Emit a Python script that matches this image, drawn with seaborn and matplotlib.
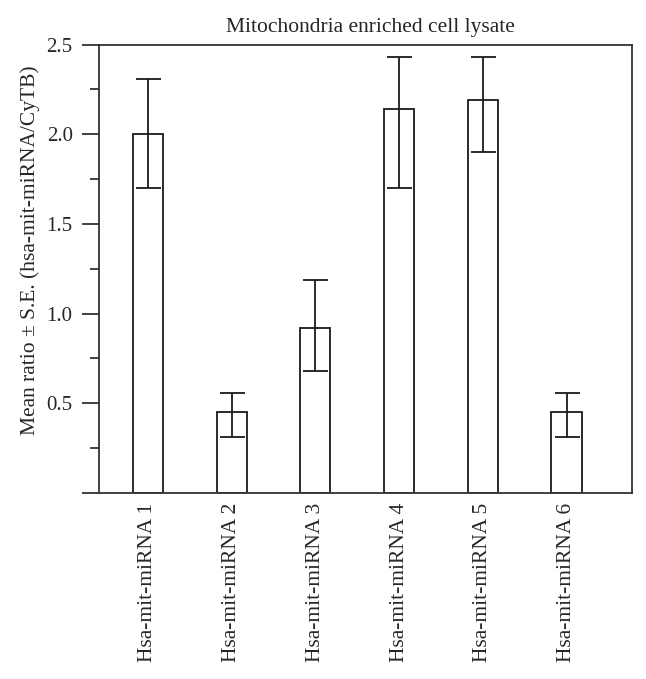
import numpy as np
import pandas as pd
import matplotlib.pyplot as plt
import seaborn as sns
from matplotlib.ticker import MultipleLocator, FixedLocator

# values
mirnas = ["Hsa-mit-miRNA 1", "Hsa-mit-miRNA 2", "Hsa-mit-miRNA 3",
          "Hsa-mit-miRNA 4", "Hsa-mit-miRNA 5", "Hsa-mit-miRNA 6"]
mean_ratio = [2.00, 0.45, 0.92, 2.14, 2.19, 0.45]
err_low = [1.70, 0.31, 0.68, 1.70, 1.90, 0.31]
err_high = [2.31, 0.56, 1.19, 2.43, 2.43, 0.56]

df = pd.DataFrame({"mirna": mirnas, "ratio": mean_ratio})

sns.set_style("ticks")
plt.rcParams["font.family"] = ["Liberation Serif", "DejaVu Serif"]
plt.rcParams["font.size"] = 15.5

fig = plt.figure(figsize=(6.46, 6.79), dpi=100)
ax = fig.add_axes([0.1533, 0.274, 0.8247, 0.6603])

sns.barplot(data=df, x="mirna", y="ratio", color="white", edgecolor="#1a1a1a",
            linewidth=1.3, width=0.36, errorbar=None, ax=ax)

#asymmetric S.E. bars
pos = np.arange(len(mirnas))
lower = np.array(mean_ratio) - np.array(err_low)
upper = np.array(err_high) - np.array(mean_ratio)
ax.errorbar(pos, mean_ratio, yerr=[lower, upper], fmt="none", ecolor="#1a1a1a",
            elinewidth=1.3, capsize=9, capthick=1.3)

ax.set_xlim(-0.585, 5.78)
ax.set_ylim(0, 2.5)
ax.yaxis.set_major_locator(FixedLocator([0, 0.5, 1.0, 1.5, 2.0, 2.5]))
ax.set_yticklabels(["", "0.5", "1.0", "1.5", "2.0", "2.5"])
ax.yaxis.set_minor_locator(MultipleLocator(0.25))
ax.tick_params(axis="y", which="major", length=12, width=1.3, color="#333333",
               labelsize=15, pad=7)
ax.tick_params(axis="y", which="minor", length=6.5, width=1.3, color="#333333")
ax.tick_params(axis="x", length=0, labelsize=15.5, pad=7)
plt.setp(ax.get_xticklabels(), rotation=90)

for s in ax.spines.values():
    s.set_linewidth(1.3)
    s.set_color("#333333")

ax.set_xlabel("")
ax.set_ylabel("Mean ratio ± S.E. (hsa-mit-miRNA/CyTB)", fontsize=15.5)
ax.yaxis.set_label_coords(-0.110, 0.542)
ax.set_title("Mitochondria enriched cell lysate", fontsize=15.5, pad=9, x=0.51)

fig.savefig("out.png", dpi=100)
